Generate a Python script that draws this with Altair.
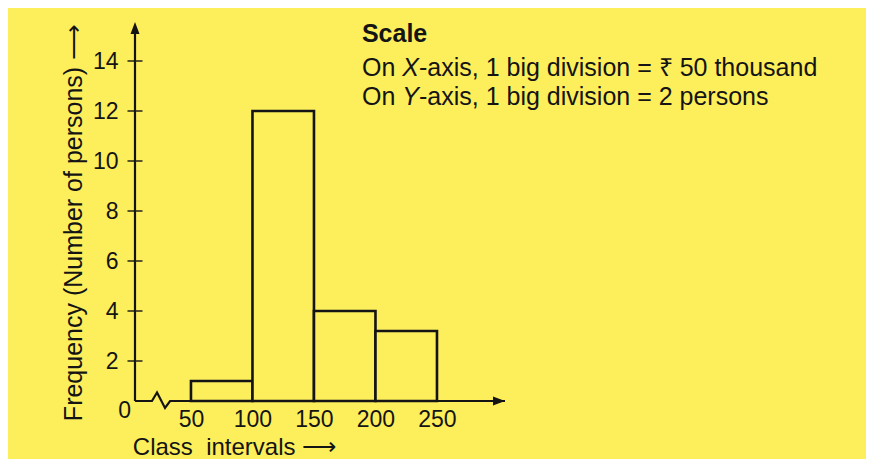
import altair as alt
import pandas as pd

# ---- data ----
CLASS_START = [50, 100, 150, 200]
CLASS_END = [100, 150, 200, 250]
FREQUENCY = [1.2, 12, 4, 3.2]
X_TICKS = [50, 100, 150, 200, 250]
Y_TICKS = [2, 4, 6, 8, 10, 12, 14]
SCALE_TITLE = "Scale"
# each scale line split into regular / italic / regular pieces
SCALE_PIECES = ["On ", "X", "-axis, 1 big division = \u20b9 50 thousand",
                "On ", "Y", "-axis, 1 big division = 2 persons"]
SCALE_ITALIC = [False, True, False, False, True, False]
SCALE_PIECE_Y = [13.72, 13.72, 13.72, 12.56, 12.56, 12.56]
SCALE_PIECE_SHIFT = [0, 32.8, 46.4, 0, 32.8, 46.4]   # x shift in data units
SCALE_TITLE_Y = 15.08
SCALE_X = 189

# axis extents (data units)
X_MIN, X_MAX = 4.5, 305.3
Y_BASE, Y_MAX = 0.4, 15.56

# axis-break zigzag on the x axis (data units)
BREAK_X = [X_MIN, 18.3, 22.4, 28.9, 33.0, X_MAX]
BREAK_Y = [Y_BASE, Y_BASE, 0.74, 0.12, Y_BASE, Y_BASE]

YELLOW = "#FDEE5C"
INK = "#141414"
FONT = "Liberation Sans"

bars = pd.DataFrame({"start": CLASS_START, "end": CLASS_END, "freq": FREQUENCY})
xline = pd.DataFrame({"x": BREAK_X, "y": BREAK_Y, "o": list(range(len(BREAK_X)))})
yticks = pd.DataFrame({"v": Y_TICKS})
one = pd.DataFrame({"k": [0]})
pieces = pd.DataFrame({
    "t": SCALE_PIECES,
    "it": SCALE_ITALIC,
    "y": SCALE_PIECE_Y,
    "x": [SCALE_X + s for s in SCALE_PIECE_SHIFT],
})

xs = alt.Scale(domain=[X_MIN, X_MAX], nice=False, zero=False)
ys = alt.Scale(domain=[Y_BASE, Y_MAX], nice=False, zero=False)

x_axis = alt.Axis(
    values=X_TICKS, ticks=False, domain=False, grid=False,
    labelFontSize=23, labelPadding=7, labelColor=INK, labelFont=FONT,
    title="Class\u00a0 intervals \u27f6", titleFontSize=24, titleFont=FONT,
    titleFontWeight="normal", titleColor=INK,
    titleX=99, titleY=46, titleAlign="center", titleBaseline="middle")
y_axis = alt.Axis(
    values=Y_TICKS, ticks=False, domain=False, grid=False,
    labelFontSize=23, labelPadding=17, labelColor=INK, labelFont=FONT,
    title="Frequency (Number of persons) \u27f6", titleFontSize=25, titleFont=FONT,
    titleFontWeight="normal", titleColor=INK, titleAngle=270,
    titleX=-62, titleY=200, titleAlign="center", titleBaseline="middle")


def X(**kw):
    return alt.X(scale=xs, axis=x_axis, **kw)


def Y(**kw):
    return alt.Y(scale=ys, axis=y_axis, **kw)


bar_layer = alt.Chart(bars).mark_rect(
    fill=YELLOW, stroke=INK, strokeWidth=2.6
).encode(
    x=X(field="start", type="quantitative"),
    x2="end:Q",
    y=Y(field="freq", type="quantitative"),
    y2=alt.Y2(datum=Y_BASE),
)

x_axis_line = alt.Chart(xline).mark_line(color=INK, strokeWidth=2.2).encode(
    x=X(field="x", type="quantitative"),
    y=Y(field="y", type="quantitative"),
    order="o:Q",
)

y_axis_line = alt.Chart(one).mark_rule(color=INK, strokeWidth=2.2).encode(
    x=X(datum=X_MIN),
    y=Y(datum=Y_BASE),
    y2=alt.Y2(datum=Y_MAX - 0.3),
)

y_tick_layer = alt.Chart(yticks).mark_tick(
    orient="horizontal", color=INK, size=15, thickness=2
).encode(
    x=X(datum=X_MIN),
    y=Y(field="v", type="quantitative"),
)

up_arrow = alt.Chart(one).mark_point(
    shape="M0,0L0.9,2.4L-0.9,2.4Z", filled=True, color=INK, opacity=1, size=100
).encode(
    x=X(datum=X_MIN),
    y=Y(datum=Y_MAX),
)

right_arrow = alt.Chart(one).mark_point(
    shape="M0,0L-2.4,0.9L-2.4,-0.9Z", filled=True, color=INK, opacity=1, size=100
).encode(
    x=X(datum=X_MAX),
    y=Y(datum=Y_BASE),
)

origin_label = alt.Chart(one).mark_text(
    text="0", fontSize=23, color=INK, align="center", baseline="middle", font=FONT
).encode(
    x=X(datum=-4),
    y=Y(datum=0),
)

scale_title = alt.Chart(one).mark_text(
    text=SCALE_TITLE, fontSize=25, fontWeight="bold", color=INK,
    align="left", baseline="middle", font=FONT
).encode(
    x=X(datum=SCALE_X),
    y=Y(datum=SCALE_TITLE_Y),
)

scale_regular = alt.Chart(pieces).transform_filter(
    "!datum.it"
).mark_text(
    fontSize=25, color=INK, align="left", baseline="middle", font=FONT
).encode(
    x=X(field="x", type="quantitative"),
    y=Y(field="y", type="quantitative"),
    text="t:N",
)

scale_italic = alt.Chart(pieces).transform_filter(
    "datum.it"
).mark_text(
    fontSize=25, fontStyle="italic", color=INK, align="left", baseline="middle", font=FONT
).encode(
    x=X(field="x", type="quantitative"),
    y=Y(field="y", type="quantitative"),
    text="t:N",
)

chart = alt.layer(
    x_axis_line, bar_layer, y_axis_line, y_tick_layer, up_arrow, right_arrow,
    origin_label, scale_title, scale_regular, scale_italic
).properties(
    width=370, height=379,
    autosize=alt.AutoSizeParams(type="none"),
    padding={"left": 127, "top": 14, "right": 361, "bottom": 58},
).configure(
    background=YELLOW, font=FONT
).configure_view(strokeWidth=0)

chart.save("out.html", embed_options={"renderer": "svg", "actions": False})
